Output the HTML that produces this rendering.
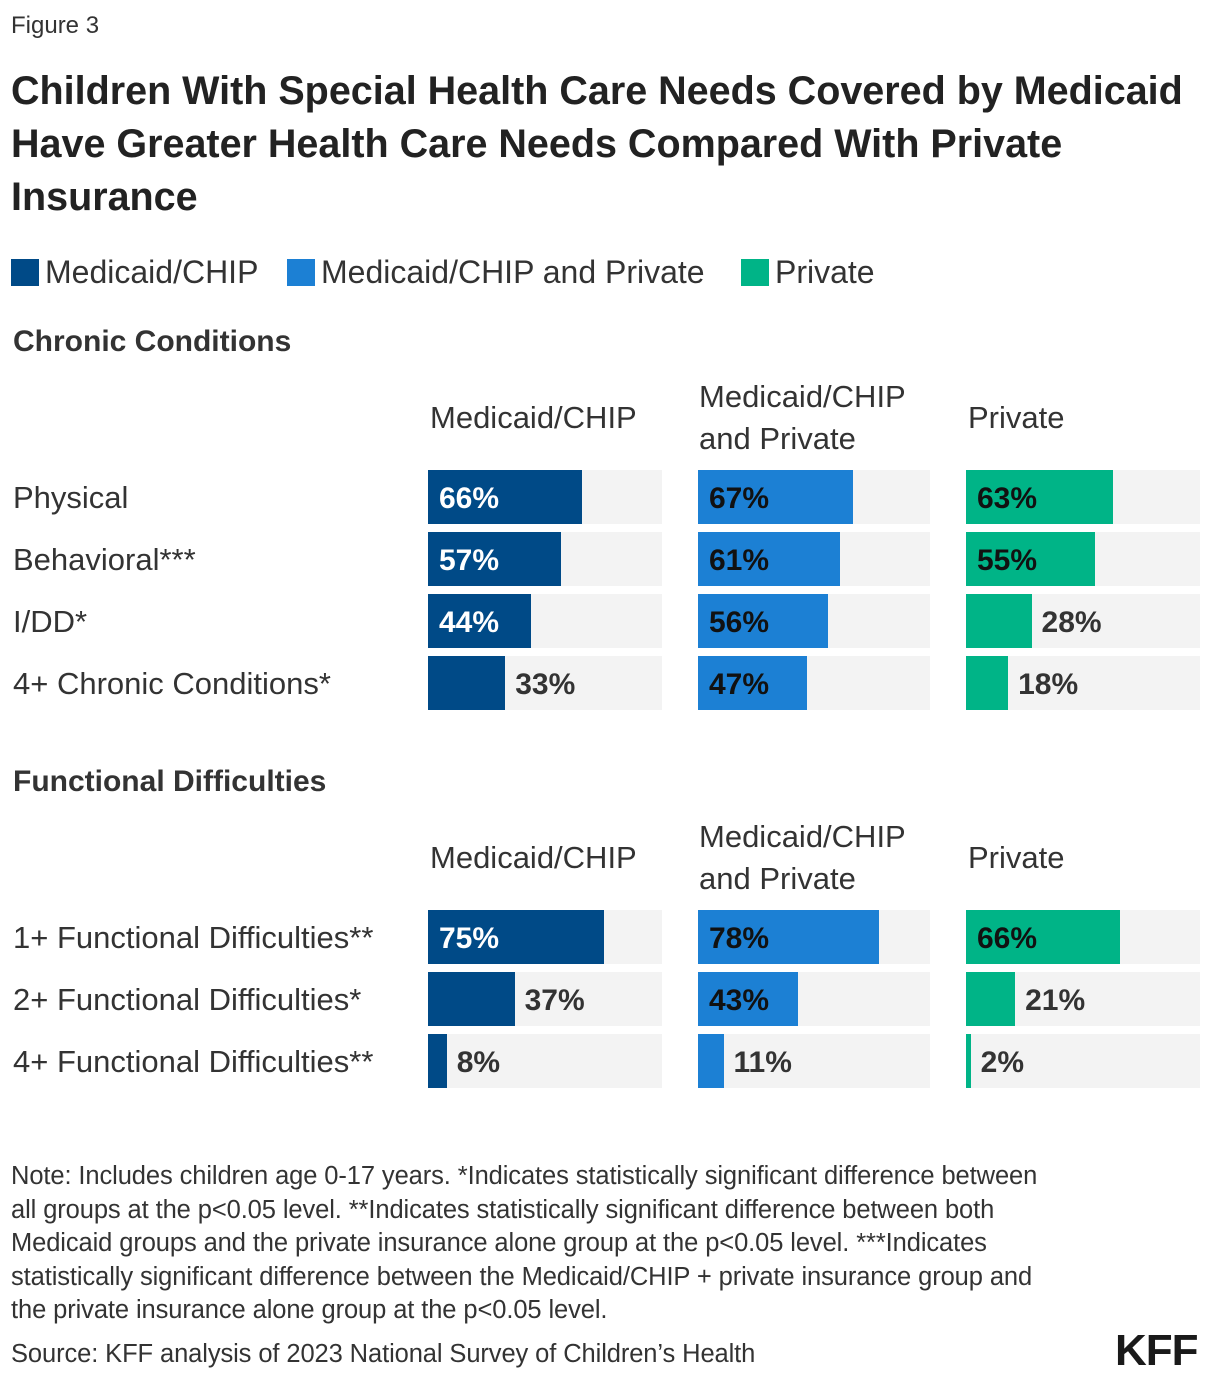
<!DOCTYPE html>
<html><head><meta charset="utf-8"><style>
body{margin:0;width:1220px;height:1382px;background:#fff;font-family:"Liberation Sans",sans-serif;color:#222;position:relative;overflow:hidden}
.a{position:absolute;white-space:nowrap}
.fig{left:11px;top:12px;font-size:24px;color:#333}
.title{left:11px;top:65px;font-size:39.5px;font-weight:bold;line-height:53px;color:#222;letter-spacing:0}
.leg{top:254px;font-size:32px;color:#333}
.sw{position:absolute;top:259px;width:28px;height:27px}
.sec{left:13px;font-size:30px;font-weight:bold;color:#333}
.colh{font-size:31px;color:#333;line-height:42px}
.rowl{left:13px;font-size:31px;color:#333}
.track{position:absolute;background:#f3f3f3;height:54px}
.bar{position:absolute;height:54px}
.val{position:absolute;font-size:30px;font-weight:bold;line-height:54px}
.note{left:11px;top:1160px;font-size:25.5px;color:#333;line-height:33.5px;letter-spacing:-0.1px}
.src{left:11px;top:1340px;font-size:25.5px;color:#333;letter-spacing:-0.1px}
.kff{left:1115px;top:1326px;font-size:44px;font-weight:900;color:#1a1a1a;letter-spacing:-1px}
</style></head><body>
<div class="a fig">Figure 3</div>
<div class="a title">Children With Special Health Care Needs Covered by Medicaid<br>Have Greater Health Care Needs Compared With Private<br>Insurance</div>
<div class="sw" style="left:11px;background:#004a87"></div>
<div class="a leg" style="left:45px">Medicaid/CHIP</div>
<div class="sw" style="left:287px;background:#1c80d4"></div>
<div class="a leg" style="left:321px">Medicaid/CHIP and Private</div>
<div class="sw" style="left:741px;background:#00b487"></div>
<div class="a leg" style="left:775px">Private</div>

<div class="a sec" style="top:325px">Chronic Conditions</div>
<div class="a sec" style="top:765px">Functional Difficulties</div>

<div class="a note">Note: Includes children age 0-17 years. *Indicates statistically significant difference between<br>all groups at the p&lt;0.05 level. **Indicates statistically significant difference between both<br>Medicaid groups and the private insurance alone group at the p&lt;0.05 level. ***Indicates<br>statistically significant difference between the Medicaid/CHIP + private insurance group and<br>the private insurance alone group at the p&lt;0.05 level.</div>
<div class="a src">Source: KFF analysis of 2023 National Survey of Children’s Health</div>
<div class="a kff">KFF</div>

<script>
const series = ["Medicaid/CHIP", "Medicaid/CHIP and Private", "Private"];
const chronicCategories = ["Physical", "Behavioral***", "I/DD*", "4+ Chronic Conditions*"];
const chronicMedicaid = [66, 57, 44, 33];
const chronicBoth = [67, 61, 56, 47];
const chronicPrivate = [63, 55, 28, 18];
const functionalCategories = ["1+ Functional Difficulties**", "2+ Functional Difficulties*", "4+ Functional Difficulties**"];
const functionalMedicaid = [75, 37, 8];
const functionalBoth = [78, 43, 11];
const functionalPrivate = [66, 21, 2];

const cols = [{x:428,w:234,c:"#004a87",t:"#fff",hx:430},{x:698,w:232,c:"#1c80d4",t:"#111",hx:699},{x:966,w:234,c:"#00b487",t:"#111",hx:968}];
const root = document.body;
function xScale(col, v){ return v/100*col.w; }
function panel(top, cats, vals, key){
  series.forEach((s,i)=>{
    const h=document.createElement('div');
    h.className='a colh';
    
    
    h.style.left=cols[i].hx+'px';
    if(i===1){h.innerHTML='Medicaid/CHIP<br>and Private';h.style.top=(top-94)+'px';}
    else{h.textContent=s;h.style.top=(top-73)+'px';}
    root.appendChild(h);
  });
  cats.forEach((cat,r)=>{
    const y=top+r*62;
    const l=document.createElement('div');
    l.className='a rowl';
    
    
    l.style.top=(y+10)+'px';
    l.textContent=cat;
    root.appendChild(l);
    vals.forEach((arr,i)=>{
      const col=cols[i], v=arr[r], bw=xScale(col,v);
      const t=document.createElement('div');
      t.className='track';
      
      
      t.style.left=col.x+'px';t.style.top=y+'px';t.style.width=col.w+'px';
      root.appendChild(t);
      const b=document.createElement('div');
      b.className='bar';
      
      
      b.style.left=col.x+'px';b.style.top=y+'px';b.style.width=bw+'px';b.style.background=col.c;
      root.appendChild(b);
      const tx=document.createElement('div');
      tx.className='val';
      
      
      tx.textContent=v+'%';
      tx.style.top=(y+2)+'px';
      if(bw>90){tx.style.left=(col.x+11)+'px';tx.style.color=col.t;}
      else{tx.style.left=(col.x+bw+10)+'px';tx.style.color='#333';}
      root.appendChild(tx);
    });
  });
}
panel(470, chronicCategories, [chronicMedicaid, chronicBoth, chronicPrivate], 'chronic');
panel(910, functionalCategories, [functionalMedicaid, functionalBoth, functionalPrivate], 'functional');
</script>
</body></html>
